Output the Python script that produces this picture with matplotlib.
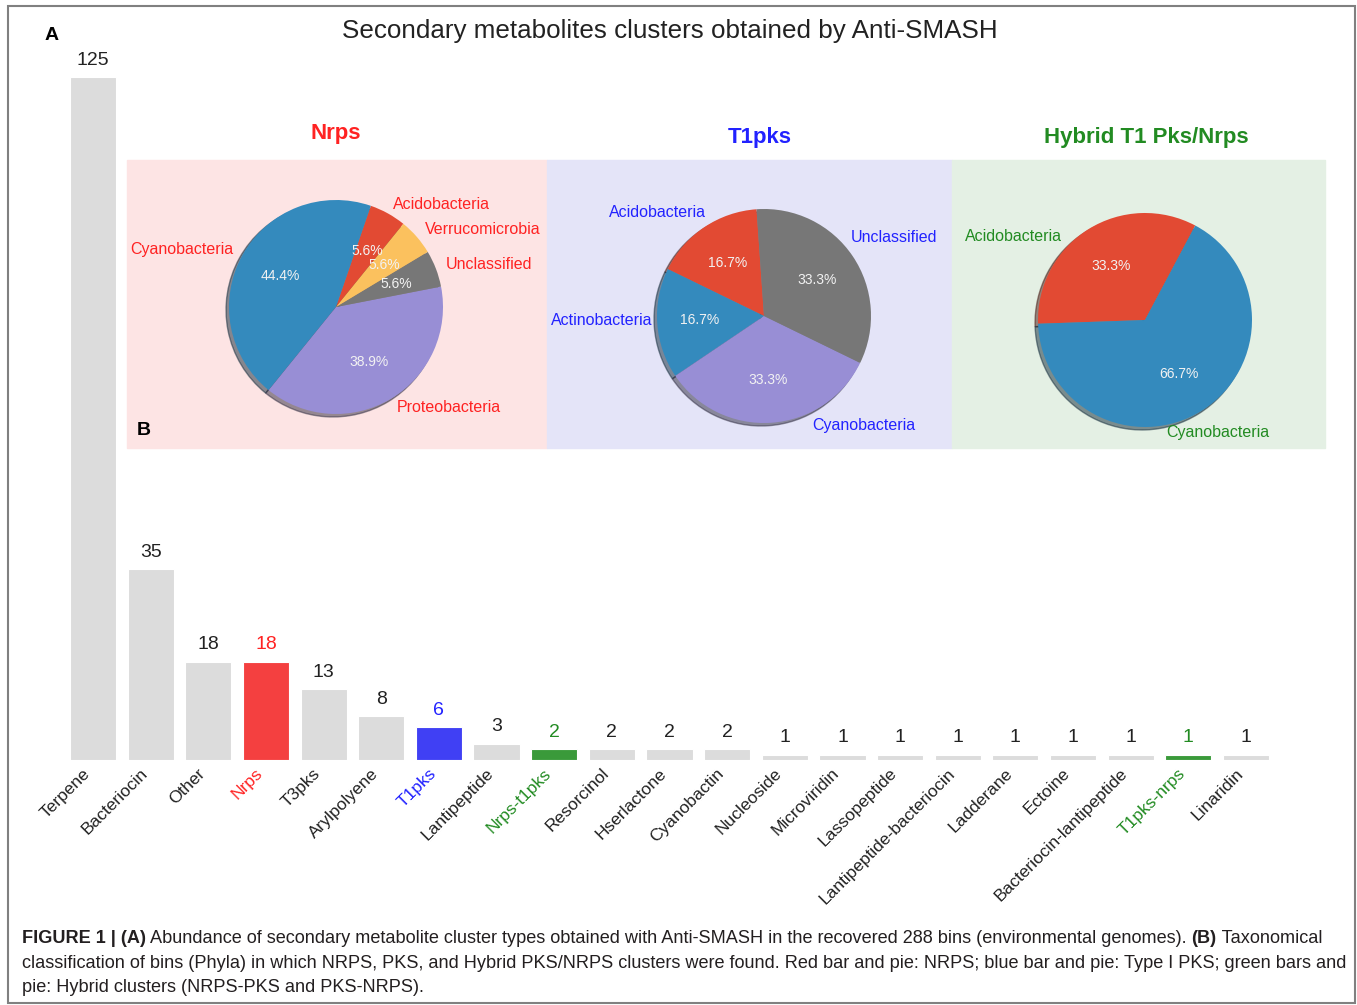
import matplotlib
matplotlib.use('Agg')
import matplotlib.pyplot as plt
from matplotlib.patches import Rectangle
from matplotlib import font_manager

plt.rcParams['font.family'] = ['Liberation Sans', 'DejaVu Sans']

# bar chart data
types = ['Terpene', 'Bacteriocin', 'Other', 'Nrps', 'T3pks', 'Arylpolyene', 'T1pks',
         'Lantipeptide', 'Nrps-t1pks', 'Resorcinol', 'Hserlactone', 'Cyanobactin',
         'Nucleoside', 'Microviridin', 'Lassopeptide', 'Lantipeptide-bacteriocin',
         'Ladderane', 'Ectoine', 'Bacteriocin-lantipeptide', 'T1pks-nrps', 'Linaridin']
counts = [125, 35, 18, 18, 13, 8, 6, 3, 2, 2, 2, 2, 1, 1, 1, 1, 1, 1, 1, 1, 1]

# pie data (phyla in alphabetical order)
nrps_phyla = ['Acidobacteria', 'Cyanobacteria', 'Proteobacteria', 'Unclassified', 'Verrucomicrobia']
nrps_bins = [1, 8, 7, 1, 1]
t1pks_phyla = ['Acidobacteria', 'Actinobacteria', 'Cyanobacteria', 'Unclassified']
t1pks_bins = [1, 1, 2, 2]
hybrid_phyla = ['Acidobacteria', 'Cyanobacteria']
hybrid_bins = [1, 2]

RED = '#ff2222'
BLUE = '#2222ff'
GREEN = '#228b22'
pie_cycle = ['#E24A33', '#348ABD', '#988ED5', '#777777', '#FBC15E']

W, H = 1357, 1005
fig = plt.figure(figsize=(W / 100, H / 100), dpi=100)


def fx(px):
    return px / W


def fy(py):
    return 1 - py / H


# outer frame
fig.add_artist(Rectangle((fx(8), fy(1003)), fx(1355) - fx(8), fy(6) - fy(1003),
                         transform=fig.transFigure, fill=False, ec='#808080', lw=1.5))

# ---- bar chart (A) ----
ax = fig.add_axes([fx(64.2), fy(760), fx(1274.8) - fx(64.2), fy(61) - fy(760)])
ax.set_facecolor('none')
bar_colors = []
text_colors = []
for t in types:
    if t == 'Nrps':
        bar_colors.append('#f44040'); text_colors.append(RED)
    elif t == 'T1pks':
        bar_colors.append('#4040f4'); text_colors.append(BLUE)
    elif t in ('Nrps-t1pks', 'T1pks-nrps'):
        bar_colors.append('#3a9a3a'); text_colors.append(GREEN)
    else:
        bar_colors.append('#dcdcdc'); text_colors.append('#222222')
xs = range(len(types))
ax.bar(xs, counts, width=0.8, color=bar_colors, edgecolor='white', linewidth=0.8)
for x, c, tc in zip(xs, counts, text_colors):
    ax.annotate(str(c), (x, c), xytext=(0, 6), textcoords='offset points',
                ha='center', va='bottom', fontsize=14, color=tc)
ax.set_xlim(-0.5, len(types) - 0.5)
ax.set_ylim(0, 128)
ax.set_xticks(list(xs))
ax.set_xticklabels(types, rotation=45, ha='right', fontsize=12.5)
for lab, tc in zip(ax.get_xticklabels(), text_colors):
    lab.set_color(tc)
ax.tick_params(axis='x', length=0, pad=4)
ax.set_yticks([])
for s in ax.spines.values():
    s.set_visible(False)

fig.text(fx(670), fy(31), 'Secondary metabolites clusters obtained by Anti-SMASH',
         ha='center', va='center', fontsize=18.7, color='#222222')
fig.text(fx(52), fy(35), 'A', ha='center', va='center', fontsize=14, fontweight='bold')

# ---- pie panels (B) ----
panels = [(127, 547, '#fde4e4'), (547, 952, '#e4e4f8'), (952, 1325, '#e4f0e4')]
for x0, x1, col in panels:
    fig.add_artist(Rectangle((fx(x0), fy(448)), fx(x1) - fx(x0), fy(160) - fy(448),
                             transform=fig.transFigure, color=col, zorder=-1))

fig.text(fx(336), fy(133), 'Nrps', ha='center', va='center', fontsize=16,
         fontweight='bold', color=RED)
fig.text(fx(760), fy(138), 'T1pks', ha='center', va='center', fontsize=16,
         fontweight='bold', color=BLUE)
fig.text(fx(1146), fy(138), 'Hybrid T1 Pks/Nrps', ha='center', va='center', fontsize=16,
         fontweight='bold', color=GREEN)
fig.text(fx(144), fy(430), 'B', ha='center', va='center', fontsize=14, fontweight='bold')


def draw_pie(cx, cy, phyla, bins, start, tcol, label_pos=None):
    r = 107
    half = r * 1.25
    pa = fig.add_axes([fx(cx - half), fy(cy + half), 2 * half / W, 2 * half / H])
    pa.set_facecolor('none')
    wedges, texts, autotexts = pa.pie(bins, labels=phyla, startangle=start,
                                      colors=pie_cycle[:len(bins)],
                                      autopct='%1.1f%%', shadow=True,
                                      textprops={'fontsize': 11.5, 'color': tcol})
    for at in autotexts:
        at.set_color('#f2f2f2')
        at.set_fontsize(10)
    # labels nudged by hand in the original figure
    if label_pos:
        for t in texts:
            if t.get_text() in label_pos:
                px, py, ha = label_pos[t.get_text()]
                t.set_position((px, py))
                t.set_ha(ha)
    pa.set_xlim(-1.25, 1.25)
    pa.set_ylim(-1.25, 1.25)
    pa.set_aspect('equal')
    pa.axis('off')


draw_pie(336, 307, nrps_phyla, nrps_bins, 51, RED)
draw_pie(764, 316, t1pks_phyla, t1pks_bins, 94, BLUE,
         {'Acidobacteria': (-0.54, 0.97, 'right'), 'Unclassified': (0.81, 0.73, 'left'),
          'Actinobacteria': (-1.045, -0.04, 'right'), 'Cyanobacteria': (0.45, -1.02, 'left')})
draw_pie(1145, 320, hybrid_phyla, hybrid_bins, 62, GREEN,
         {'Acidobacteria': (-0.776, 0.785, 'right'), 'Cyanobacteria': (0.196, -1.047, 'left')})

# ---- caption ----
names = {f.name for f in font_manager.fontManager.ttflist}
cap_family = ['Liberation Sans Narrow'] if 'Liberation Sans Narrow' in names else ['Liberation Sans']

caption = [
    [('FIGURE 1 | (A)', 'bold'),
     (' Abundance of secondary metabolite cluster types obtained with Anti-SMASH in the recovered 288 bins (environmental genomes). ', 'normal'),
     ('(B)', 'bold'), (' Taxonomical', 'normal')],
    [('classification of bins (Phyla) in which NRPS, PKS, and Hybrid PKS/NRPS clusters were found. Red bar and pie: NRPS; blue bar and pie: Type I PKS; green bars and', 'normal')],
    [('pie: Hybrid clusters (NRPS-PKS and PKS-NRPS).', 'normal')],
]
fig.canvas.draw()
renderer = fig.canvas.get_renderer()


def draw_line(line, ypx, size, draw=True):
    xpx = 22
    made = []
    for seg, weight in line:
        t = fig.text(fx(xpx), fy(ypx), seg, ha='left', va='center', fontsize=size,
                     fontweight=weight, family=cap_family, color='#231f20')
        xpx += t.get_window_extent(renderer).width
        made.append(t)
    if not draw:
        for t in made:
            t.remove()
    return xpx - 22


# size the caption so the first line spans the same width as the reference
w11 = draw_line(caption[0], 938, 11, draw=False)
cap_size = 11 * 1296 / w11
for line, ypx in zip(caption, [938, 963, 987]):
    draw_line(line, ypx, cap_size)

fig.savefig('out.png', dpi=100)
